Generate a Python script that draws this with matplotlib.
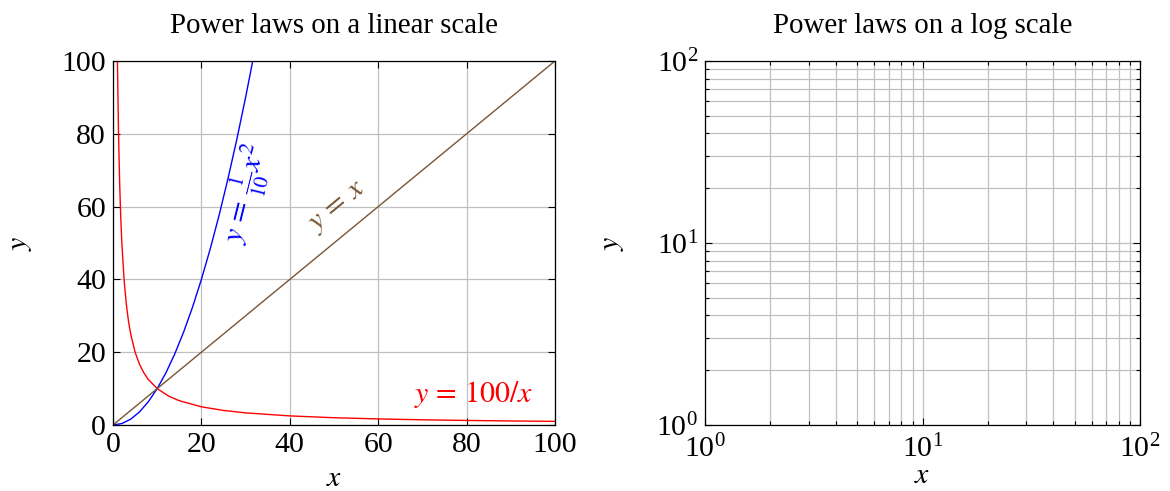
import matplotlib
matplotlib.use("Agg")
import matplotlib.pyplot as plt
from matplotlib.ticker import LogLocator, NullFormatter

plt.rcParams['font.family'] = ['Liberation Serif', 'DejaVu Serif']
plt.rcParams['mathtext.fontset'] = 'stix'

# data
inv_x = [1, 1.25, 1.5, 1.75, 2, 2.5, 3, 3.5, 4, 5, 6, 7, 8, 10, 12.5, 15, 20, 25, 30, 40, 50, 60, 70, 80, 90, 100]
inv_y = [100, 80, 66.67, 57.14, 50, 40, 33.33, 28.57, 25, 20, 16.67, 14.29, 12.5, 10, 8, 6.67, 5, 4, 3.33, 2.5, 2, 1.67, 1.43, 1.25, 1.11, 1]
sq_x = [0, 2, 4, 6, 8, 10, 12, 14, 16, 18, 20, 22, 24, 26, 28, 30, 32, 34]
sq_y = [0, 0.4, 1.6, 3.6, 6.4, 10, 14.4, 19.6, 25.6, 32.4, 40, 48.4, 57.6, 67.6, 78.4, 90, 102.4, 115.6]
lin_x = [0, 100]
lin_y = [0, 100]
lin_ticks = [0, 20, 40, 60, 80, 100]

RED = '#ff0000'
BLUE = '#0000ff'
BROWN = '#7a5533'
GRID = '#c0c0c0'
FS = 21.5
TFS = 20.8

fig = plt.figure(figsize=(11.7, 4.91), dpi=100)
ax1 = fig.add_axes([113/1170, 1-425/491, 442/1170, 364/491])
ax2 = fig.add_axes([705/1170, 1-425/491, 435/1170, 364/491])

for ax in (ax1, ax2):
    ax.tick_params(which='both', direction='in', top=True, right=True, labelsize=FS, pad=5, width=0.8)
    ax.tick_params(which='major', length=5)
    ax.tick_params(which='minor', length=3)
    for s in ax.spines.values():
        s.set_linewidth(0.9)
ax2.tick_params(axis='x', which='major', pad=7)

ax1.plot(inv_x, inv_y, color=RED, lw=1.0)
ax1.plot(sq_x, sq_y, color=BLUE, lw=1.0)
ax1.plot(lin_x, lin_y, color=BROWN, lw=1.0)
ax1.set_xlim(0, 100)
ax1.set_ylim(0, 100)
ax1.set_xticks(lin_ticks)
ax1.set_yticks(lin_ticks)
ax1.grid(True, color=GRID, lw=0.9)
ax1.set_axisbelow(True)
ax1.set_title('Power laws on a linear scale', fontsize=TFS, pad=20)
ax1.set_xlabel('$x$', fontsize=FS, labelpad=6)
ax1.set_ylabel('$y$', fontsize=FS, labelpad=20)

ax1.text(81.5, 8.3, r'$y\,=\,100/x$', color=RED, fontsize=FS, ha='center', va='center')
ax1.text(30.3, 63.5, r'$y\,=\,\frac{1}{10}x^2$', color=BLUE, fontsize=FS, ha='center', va='center',
         rotation=76, rotation_mode='anchor')
ax1.text(51.0, 59.8, r'$y\,=\,x$', color=BROWN, fontsize=FS, ha='center', va='center',
         rotation=39.5, rotation_mode='anchor')

ax2.set_xscale('log')
ax2.set_yscale('log')
ax2.set_xlim(1, 100)
ax2.set_ylim(1, 100)
for axis in (ax2.xaxis, ax2.yaxis):
    axis.set_major_locator(LogLocator(base=10, numticks=10))
    axis.set_minor_locator(LogLocator(base=10, subs=range(2, 10), numticks=10))
    axis.set_minor_formatter(NullFormatter())
ax2.grid(True, which='both', color=GRID, lw=0.9)
ax2.set_axisbelow(True)
ax2.set_title('Power laws on a log scale', fontsize=TFS, pad=20)
ax2.set_xlabel('$x$', fontsize=FS, labelpad=0)
ax2.set_ylabel('$y$', fontsize=FS, labelpad=22)

fig.savefig('out.png', dpi=100)
